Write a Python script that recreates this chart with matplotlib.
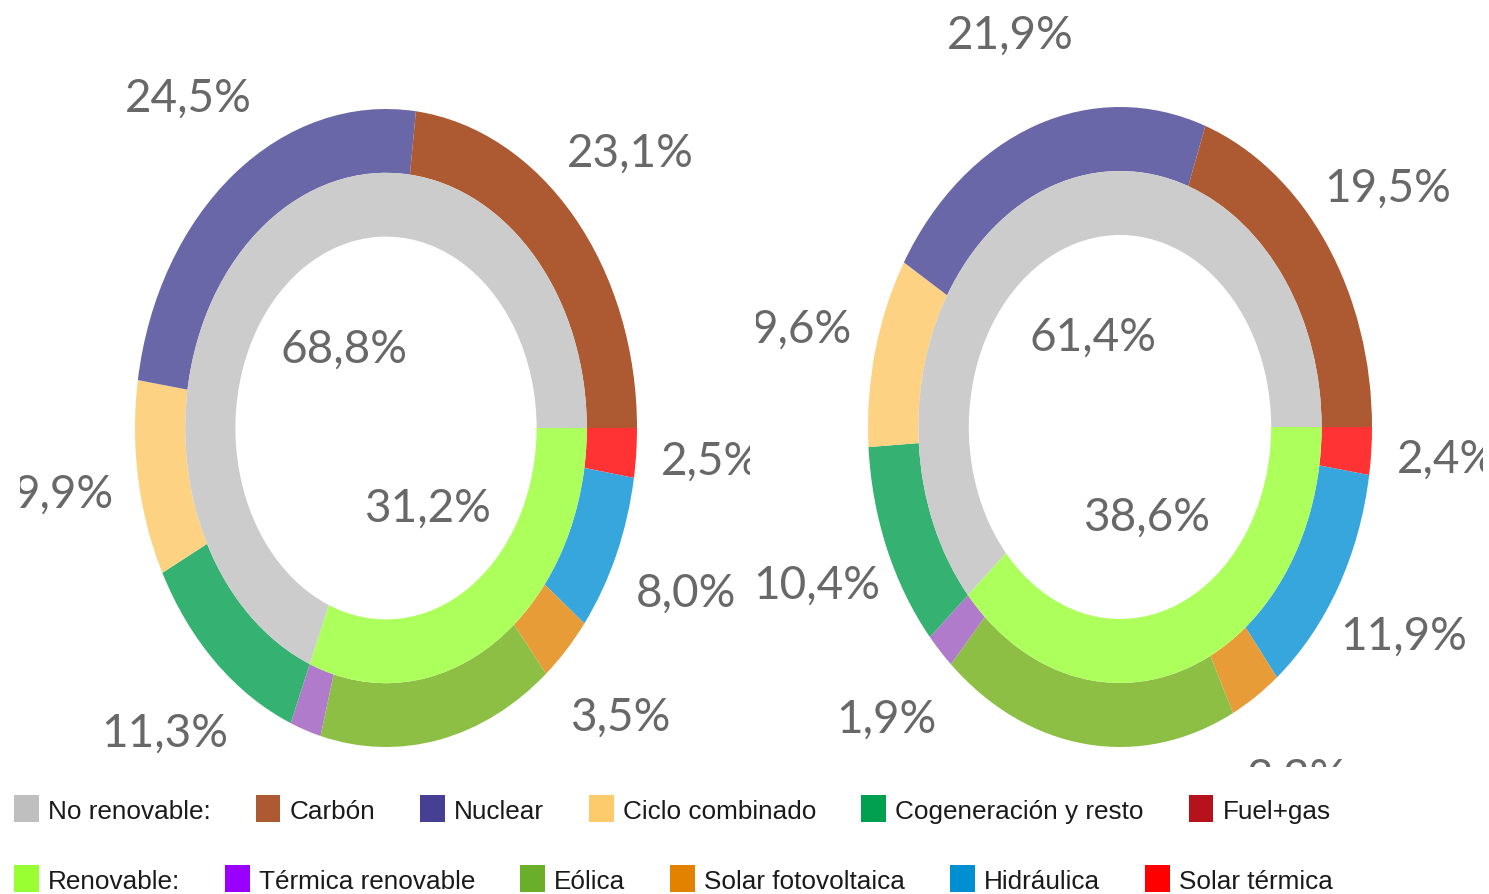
import matplotlib.pyplot as plt
from matplotlib.patches import Patch

# --------------------------------------------------
# Data (percent shares), outer ring clockwise from 3 o'clock
# --------------------------------------------------
outer_names = ['Solar térmica', 'Hidráulica', 'Solar fotovoltaica', 'Eólica',
               'Térmica renovable', 'Cogeneración y resto', 'Ciclo combinado',
               'Nuclear', 'Carbón']
outer_left = [2.5, 8.0, 3.5, 15.2, 2.0, 11.3, 9.9, 24.5, 23.1]
outer_right = [2.4, 11.9, 3.3, 19.1, 1.9, 10.4, 9.6, 21.9, 19.5]
outer_colors = ['#FF3333', '#36A6DC', '#E89C37', '#8DBF45', '#B07BCB',
                '#35B272', '#FDD283', '#6A67A8', '#AD5A32']

inner_names = ['Renovable', 'No renovable']
inner_left = [31.2, 68.8]
inner_right = [38.6, 61.4]
inner_colors = ['#ADFF5C', '#CCCCCC']

legend_row1 = ['No renovable:', 'Carbón', 'Nuclear', 'Ciclo combinado',
               'Cogeneración y resto', 'Fuel+gas']
legend_row1_colors = ['#BFBFBF', '#AD5A32', '#463F93', '#FDCB6B', '#00A050', '#B5121B']
legend_row2 = ['Renovable:', 'Térmica renovable', 'Eólica', 'Solar fotovoltaica',
               'Hidráulica', 'Solar térmica']
legend_row2_colors = ['#99FF33', '#9900FF', '#6AAE2A', '#E38200', '#0090D2', '#FF0000']

W, H = 1489, 895


def fmt(v):
    return f"{v:.1f}%".replace('.', ',')


fig = plt.figure(figsize=(W / 100, H / 100), dpi=100)
fig.patch.set_facecolor('white')

label_props = dict(ha='center', va='center', clip_on=True,
                   fontsize=33, color='#686868', family='Lato')

# (left px, right px, centre x px, centre y px, rx px, ry px)
panels = [
    (20, 750, 386, 429, 251, 319, outer_left, inner_left),
    (756, 1483, 1120, 428, 252, 320, outer_right, inner_right),
]

bottom_px = 768
for x0, x1, cx, cy, rx, ry, outer, inner in panels:
    ax = fig.add_axes([x0 / W, 1 - bottom_px / H, (x1 - x0) / W, bottom_px / H])
    ax.pie(outer, radius=1.0, colors=outer_colors, startangle=0, counterclock=False,
           labels=[fmt(v) for v in outer], labeldistance=1.3,
           wedgeprops=dict(width=0.2, linewidth=0), textprops=label_props)
    ax.pie(inner, radius=0.8, colors=inner_colors, startangle=0, counterclock=False,
           labels=[fmt(v) for v in inner], labeldistance=0.375,
           wedgeprops=dict(width=0.2, linewidth=0), textprops=label_props)
    ax.set_aspect('auto')
    ax.set_xlim((x0 - cx) / rx, (x1 - cx) / rx)
    ax.set_ylim(-(bottom_px - cy) / ry, cy / ry)
    ax.axis('off')

# --------------------------------------------------
# Legend rows
# --------------------------------------------------
for names, cols, ypx in [(legend_row1, legend_row1_colors, 810),
                         (legend_row2, legend_row2_colors, 880)]:
    handles = [Patch(facecolor=c, edgecolor='none') for c in cols]
    leg = fig.legend(handles, names, ncol=6, loc='center left',
                     bbox_to_anchor=(14 / W, 1 - ypx / H), frameon=False,
                     borderpad=0, borderaxespad=0, handlelength=0.95,
                     handleheight=1.18, handletextpad=0.35, columnspacing=1.72,
                     prop=dict(family='Liberation Sans', size=18.8))
    for t in leg.get_texts():
        t.set_color('#1a1a1a')

fig.savefig('out.png', dpi=100, facecolor='white')
